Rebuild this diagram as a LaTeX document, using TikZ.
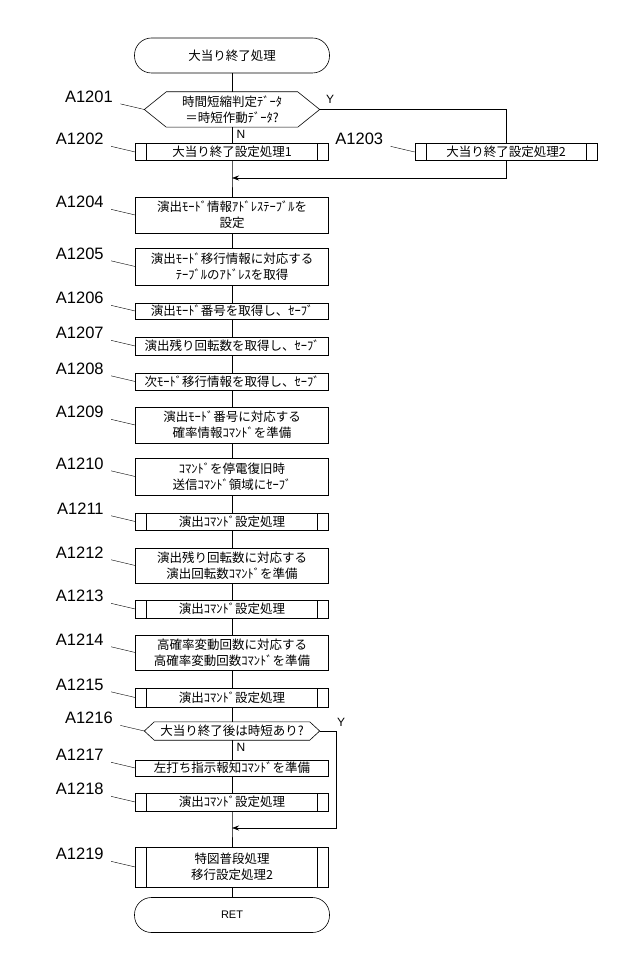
\documentclass[tikz,border=0pt]{standalone}
\usepackage{fontspec}
\setmainfont{Noto Sans CJK JP}
\newfontfamily\labfont{Liberation Sans}
\usetikzlibrary{positioning, arrows.meta}

\tikzset{
  box/.style={draw, line width=0.6pt, minimum width=193pt, inner sep=1pt, align=center,
    font=\fontsize{12.5}{16}\selectfont},
  subbox/.style={box, path picture={
    \draw ([xshift=11pt]path picture bounding box.north west) -- ([xshift=11pt]path picture bounding box.south west);
    \draw ([xshift=-11pt]path picture bounding box.north east) -- ([xshift=-11pt]path picture bounding box.south east);}},
  term/.style={box, rounded corners=17pt, minimum width=195pt, minimum height=35pt},
  hexnode/.style={minimum width=175pt, inner sep=0pt, align=center, font=\fontsize{12.5}{16}\selectfont},
  steplab/.style={font=\labfont\fontsize{16.5}{16.5}\selectfont, anchor=east},
  yn/.style={font=\labfont\fontsize{12}{12}\selectfont},
  flow/.style={line width=0.6pt},
  merge/.style={flow, -{Stealth[length=7pt,width=5pt]}}
}

\begin{document}
\begin{tikzpicture}[x=1pt, y=1pt]
  \useasboundingbox[fill=white] (0,0) rectangle (640,-965);

  % main column
  \node[term] (start) at (232,-55.5) {大当り終了処理};
  \node[hexnode, minimum height=35pt] (d1) at (232,-109.5) {時間短縮判定ﾃﾞｰﾀ\\＝時短作動ﾃﾞｰﾀ?};
  \draw[flow] (d1.west) -- ([xshift=22pt]d1.north west) -- ([xshift=-22pt]d1.north east)
     -- (d1.east) -- ([xshift=-22pt]d1.south east) -- ([xshift=22pt]d1.south west) -- cycle;
  \node[subbox, minimum height=17pt] (b2) at (232,-152) {大当り終了設定処理1};
  \node[subbox, minimum width=182pt, minimum height=17pt] (b3) at (506,-152) {大当り終了設定処理2};
  \coordinate (m1) at (232,-178);
  \node[box, minimum height=36pt] (b4) at (232,-215) {演出ﾓｰﾄﾞ情報ｱﾄﾞﾚｽﾃｰﾌﾞﾙを\\設定};
  \node[box, minimum height=37pt] (b5) at (232,-266.5) {演出ﾓｰﾄﾞ移行情報に対応する\\ﾃｰﾌﾞﾙのｱﾄﾞﾚｽを取得};
  \node[box, minimum height=16pt] (b6) at (232,-311) {演出ﾓｰﾄﾞ番号を取得し、ｾｰﾌﾞ};
  \node[box, minimum height=18pt] (b7) at (232,-346) {演出残り回転数を取得し、ｾｰﾌﾞ};
  \node[box, minimum height=17pt] (b8) at (232,-381.5) {次ﾓｰﾄﾞ移行情報を取得し、ｾｰﾌﾞ};
  \node[box, minimum height=36pt] (b9) at (232,-425) {演出ﾓｰﾄﾞ番号に対応する\\確率情報ｺﾏﾝﾄﾞを準備};
  \node[box, minimum height=37pt] (b10) at (232,-476.5) {ｺﾏﾝﾄﾞを停電復旧時\\送信ｺﾏﾝﾄﾞ領域にｾｰﾌﾞ};
  \node[subbox, minimum height=17pt] (b11) at (232,-521.5) {演出ｺﾏﾝﾄﾞ設定処理};
  \node[box, minimum height=35pt] (b12) at (232,-565.5) {演出残り回転数に対応する\\演出回転数ｺﾏﾝﾄﾞを準備};
  \node[subbox, minimum height=18pt] (b13) at (232,-609) {演出ｺﾏﾝﾄﾞ設定処理};
  \node[box, minimum height=35pt] (b14) at (232,-652.5) {高確率変動回数に対応する\\高確率変動回数ｺﾏﾝﾄﾞを準備};
  \node[subbox, minimum height=19pt] (b15) at (232,-697.5) {演出ｺﾏﾝﾄﾞ設定処理};
  \node[hexnode, minimum height=18pt] (d2) at (232,-731) {大当り終了後は時短あり?};
  \draw[flow] (d2.west) -- ([xshift=10pt]d2.north west) -- ([xshift=-10pt]d2.north east)
     -- (d2.east) -- ([xshift=-10pt]d2.south east) -- ([xshift=10pt]d2.south west) -- cycle;
  \node[box, minimum height=16pt] (b17) at (232,-768) {左打ち指示報知ｺﾏﾝﾄﾞを準備};
  \node[subbox, minimum height=18pt] (b18) at (232,-802) {演出ｺﾏﾝﾄﾞ設定処理};
  \coordinate (m2) at (232,-828);
  \node[subbox, minimum height=40pt] (b19) at (232,-867) {特図普段処理\\移行設定処理2};
  \node[term, font=\labfont\fontsize{11}{11}\selectfont] (end) at (232,-915) {RET};

  % connectors
  \draw[flow] (start) -- (d1);
  \draw[flow] (d1) -- (b2);
  \draw[flow] (b2) -- (m1) -- (b4);
  \foreach \a/\b in {b4/b5,b5/b6,b6/b7,b7/b8,b8/b9,b9/b10,b10/b11,b11/b12,b12/b13,b13/b14,b14/b15,b15/d2,d2/b17,b17/b18}
    \draw[flow] (\a) -- (\b);
  \draw[flow] (b18) -- (m2) -- (b19);
  \draw[flow] (b19) -- (end);
  \draw[flow] (d1.east) -| (b3.north);
  \draw[merge] (b3.south) |- (m1);
  \draw[merge] (d2.east) -| ++(17,0) |- (m2);

  \node[yn, anchor=south west] (y1) at ([xshift=3pt,yshift=2pt]d1.east) {Y};
  \node[yn, anchor=north west] (n1) at ([xshift=1pt]d1.south) {N};
  \node[yn, anchor=south west] (y2) at ([xshift=14pt,yshift=1pt]d2.east) {Y};
  \node[yn, anchor=north west] (n2) at ([xshift=1pt]d2.south) {N};

  % step labels with leaders
  \foreach \n/\t in {d1/A1201,b2/A1202,b3/A1203,b4/A1204,b5/A1205,b6/A1206,b7/A1207,b8/A1208,b9/A1209,b10/A1210,b11/A1211,b12/A1212,b13/A1213,b14/A1214,b15/A1215,d2/A1216,b17/A1217,b18/A1218,b19/A1219}{
    \node[steplab] (l\n) at ([shift={(-28pt,13pt)}]\n.west) {\t};
    \draw[line width=0.4pt] ([shift={(4pt,2pt)}]l\n.south east) -- (\n.west);
  }
\end{tikzpicture}
\end{document}
